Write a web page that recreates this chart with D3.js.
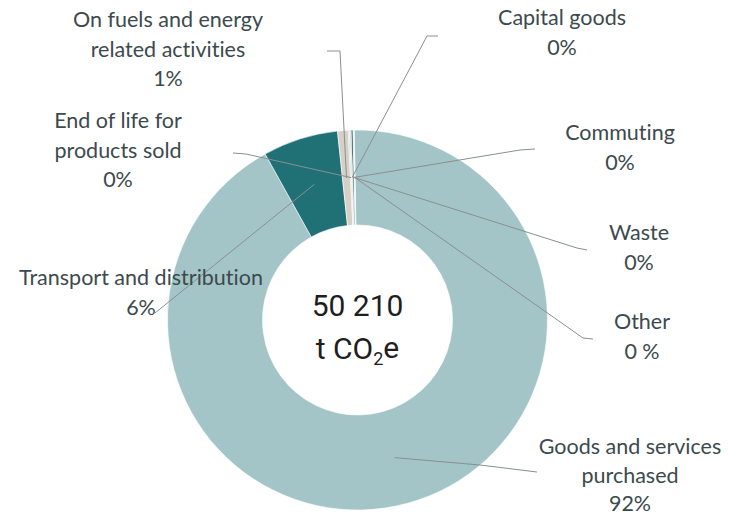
<!DOCTYPE html>
<html><head><meta charset="utf-8">
<script src="https://cdn.jsdelivr.net/npm/d3@7/dist/d3.min.js"></script>
<style>body{margin:0;background:#fff}svg{display:block}text{font-variant-ligatures:none}</style>
</head><body><svg id="c" width="729" height="518"></svg>
<script>
const categories = ["Goods and services purchased","Transport and distribution","On fuels and energy related activities","End of life for products sold","Capital goods","Commuting","Waste","Other"];
const values = [92.2, 6.4, 0.9, 0.1, 0.15, 0.15, 0.05, 0.05];
const pctLabels = ["92%","6%","1%","0%","0%","0%","0%","0 %"];
const totalLines = ["50 210", "t CO", "2", "e"];

const colors = ["#a3c5c7","#1f7176","#d5d1c6","#b9c3c1","#cfdcdc","#1c4a50","#6b9598","#bcd3d4"];
// label layout: text lines, center x, first line y, leader polyline (elbow, end)
const layout = [
  {lines:["Goods and services","purchased"], x:630, y:447, gap:28.5, elbow:[480,465], end:[537,472]},
  {lines:["Transport and distribution"], x:141, y:278, elbow:null, end:[155,313]},
  {lines:["On fuels and energy","related activities"], x:168, y:20, elbow:[340,51], end:[327,51]},
  {lines:["End of life for","products sold"], x:118, y:121, elbow:[246,154], end:[233,153]},
  {lines:["Capital goods"], x:562, y:18, elbow:[427,36], end:[438,36]},
  {lines:["Commuting"], x:620, y:133, elbow:[520,150], end:[535,149]},
  {lines:["Waste"], x:639, y:233, elbow:[577,248], end:[587,250]},
  {lines:["Other"], x:642, y:322, elbow:[583,338], end:[593,339]}
];

const svg = d3.select("#c");
const cx = 357.5, cy = 320, R = 190, r = 95;
const g = svg.append("g").attr("transform", `translate(${cx},${cy})`);
const startOffset = -1 * Math.PI/180;
const pie = d3.pie().sort(null).value(d => d)
  .startAngle(startOffset).endAngle(2*Math.PI + startOffset);
const arcs = pie(values);
const arc = d3.arc().innerRadius(r).outerRadius(R);

g.selectAll("path.slice").data(arcs).join("path")
  .attr("class","slice")
  .attr("d", arc)
  .attr("fill", (d,i) => colors[i])
  .attr("stroke", "#fff").attr("stroke-width", 0.6);

// leader lines
const line = d3.line();
arcs.forEach((a,i) => {
  const c = arc.centroid(a);
  const p0 = [cx + c[0], cy + c[1]];
  const L = layout[i];
  const pts = [p0];
  if (L.elbow) pts.push(L.elbow);
  pts.push(L.end);
  svg.append("path").attr("d", line(pts)).attr("fill","none")
    .attr("stroke","#8a8f90").attr("stroke-width",1);
});

// labels
const font = "Lato, 'Open Sans', sans-serif";
layout.forEach((L,i) => {
  const gap = L.gap || 29.7;
  const t = svg.append("text").attr("text-anchor","middle")
    .attr("font-family", font).attr("font-size", 21.5).attr("fill","#3c4a4d");
  const all = L.lines.concat([pctLabels[i]]);
  all.forEach((s,k) => {
    t.append("tspan").attr("x", L.x).attr("y", L.y + k*gap).attr("dy","0.33em").text(s);
  });
});

// center total
const ct = svg.append("text").attr("text-anchor","middle")
  .attr("font-family","Roboto, Inter, sans-serif").attr("font-size",30).attr("fill","#1e1e1e");
ct.append("tspan").attr("x", cx).attr("y", 305).attr("dy","0.35em").text(totalLines[0]);
const l2 = svg.append("text").attr("text-anchor","middle")
  .attr("font-family","Roboto, Inter, sans-serif").attr("font-size",30).attr("fill","#1e1e1e")
  .attr("x", cx).attr("y", 348).attr("dy","0.35em");
l2.append("tspan").text(totalLines[1]);
l2.append("tspan").attr("font-size",18).attr("dy","0.35em").text(totalLines[2]);
l2.append("tspan").attr("dy","-0.22em").text(totalLines[3]);
</script>
</body></html>
